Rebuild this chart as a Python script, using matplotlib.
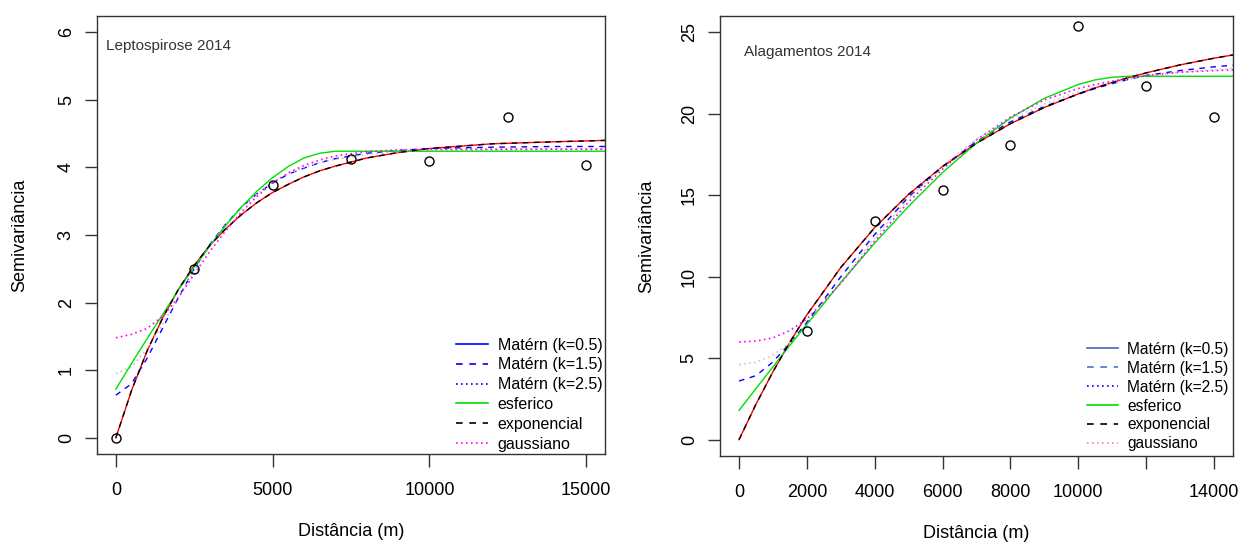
import matplotlib
matplotlib.use("Agg")
from matplotlib import pyplot as plt
from matplotlib.lines import Line2D

plt.rcParams['font.family'] = ['Liberation Sans', 'DejaVu Sans']

# --- Leptospirose 2014 ---
lep_pts_x = [0, 2500, 5000, 7500, 10000, 12500, 15000]
lep_pts_y = [0.0, 2.50, 3.74, 4.12, 4.10, 4.74, 4.03]

lep_x = [0, 500, 1000, 1500, 2000, 2500, 3000, 3500, 4000, 4500, 5000, 5500,
         6000, 6500, 7000, 8000, 9000, 10000, 12000, 14000, 15600]
lep_mat05 = [0, 0.70, 1.29, 1.78, 2.20, 2.55, 2.85, 3.09, 3.30, 3.48, 3.63, 3.75,
             3.86, 3.95, 4.02, 4.14, 4.22, 4.28, 4.35, 4.38, 4.40]
lep_mat15 = [0.63, 0.80, 1.18, 1.63, 2.08, 2.50, 2.86, 3.16, 3.41, 3.61, 3.77, 3.90,
             3.99, 4.07, 4.13, 4.21, 4.25, 4.28, 4.30, 4.31, 4.31]
lep_mat25 = [0.95, 1.05, 1.32, 1.69, 2.09, 2.48, 2.84, 3.15, 3.40, 3.61, 3.78, 3.90,
             4.00, 4.07, 4.12, 4.19, 4.23, 4.25, 4.26, 4.27, 4.27]
lep_esf = [0.72, 1.10, 1.47, 1.83, 2.19, 2.53, 2.84, 3.14, 3.41, 3.65, 3.85, 4.015,
           4.14, 4.21, 4.24, 4.24, 4.24, 4.24, 4.24, 4.24, 4.24]
lep_exp = [0, 0.70, 1.29, 1.78, 2.20, 2.55, 2.85, 3.09, 3.30, 3.48, 3.63, 3.75,
           3.86, 3.95, 4.02, 4.14, 4.22, 4.28, 4.35, 4.38, 4.40]
lep_gau = [1.48, 1.53, 1.62, 1.80, 2.08, 2.42, 2.76, 3.06, 3.34, 3.57, 3.77, 3.92,
           4.03, 4.11, 4.17, 4.235, 4.26, 4.27, 4.27, 4.27, 4.27]

# --- Alagamentos 2014 ---
ala_pts_x = [2000, 4000, 6000, 8000, 10000, 12000, 14000]
ala_pts_y = [6.7, 13.4, 15.3, 18.1, 25.4, 21.7, 19.8]

ala_x = [0, 500, 1000, 1500, 2000, 3000, 4000, 5000, 6000, 7000, 8000,
         9000, 10000, 10500, 11000, 11500, 12000, 13000, 14000, 14560]
ala_mat05 = [0, 2.18, 4.17, 5.99, 7.66, 10.57, 13.02, 15.06, 16.77, 18.19, 19.39,
             20.39, 21.22, 21.59, 21.92, 22.23, 22.51, 23.00, 23.41, 23.61]
ala_mat15 = [3.60, 3.93, 4.77, 5.92, 7.20, 10.0, 12.6, 14.9, 16.75, 18.3, 19.5,
             20.45, 21.2, 21.55, 21.85, 22.12, 22.35, 22.65, 22.88, 22.98]
ala_mat25 = [4.60, 4.75, 5.20, 5.95, 7.0, 9.7, 12.4, 14.8, 16.8, 18.45, 19.65,
             20.6, 21.35, 21.65, 21.9, 22.12, 22.3, 22.55, 22.7, 22.78]
ala_esf = [1.8, 3.14, 4.47, 5.79, 7.09, 9.64, 12.07, 14.33, 16.4, 18.21, 19.74,
           20.95, 21.8, 22.08, 22.24, 22.3, 22.3, 22.3, 22.3, 22.3]
ala_exp = [0, 2.18, 4.17, 5.99, 7.66, 10.57, 13.02, 15.06, 16.77, 18.19, 19.39,
           20.39, 21.22, 21.59, 21.92, 22.23, 22.51, 23.00, 23.41, 23.61]
ala_gau = [6.0, 6.05, 6.25, 6.7, 7.4, 9.6, 12.2, 14.6, 16.6, 18.4, 19.8,
           20.85, 21.55, 21.8, 22.0, 22.2, 22.35, 22.55, 22.65, 22.7]

legend_labels = ["Matérn (k=0.5)", "Matérn (k=1.5)", "Matérn (k=2.5)",
                 "esferico", "exponencial", "gaussiano"]

DASHED = (0, (4, 4))
DOTTED = (0, (1, 2))


def draw_panel(ax, x, curves, pts_x, pts_y, gray):
    mat05, mat15, mat25, esf, expo, gau = curves
    ax.plot(x, mat05, color='red', lw=1.0)
    ax.plot(x, mat15, color='blue', lw=1.0, ls=DASHED)
    ax.plot(x, mat25, color=gray, lw=1.2, ls=DOTTED)
    ax.plot(x, esf, color='#00e000', lw=1.0)
    ax.plot(x, expo, color='black', lw=1.0, ls=DASHED)
    ax.plot(x, gau, color='magenta', lw=1.2, ls=DOTTED)
    ax.plot(pts_x, pts_y, 'o', mfc='none', mec='black', ms=6.5, mew=1.0)


def style_axes(ax, fs_leg, spacing, bpad, leg_colors):
    for s in ax.spines.values():
        s.set_linewidth(1.0)
        s.set_color('#333333')
    ax.tick_params(axis='both', length=9, width=1.0, labelsize=13, color='#333333')
    ax.tick_params(axis='y', pad=7)
    ax.tick_params(axis='x', pad=11)
    for lab in ax.get_yticklabels():
        lab.set_rotation(90)
        lab.set_va('center')
    handles = [
        Line2D([], [], color=leg_colors[0], lw=1.2),
        Line2D([], [], color=leg_colors[1], lw=1.2, ls=DASHED),
        Line2D([], [], color=leg_colors[2], lw=1.2, ls=DOTTED),
        Line2D([], [], color='#00e000', lw=1.2),
        Line2D([], [], color='black', lw=1.2, ls=DASHED),
        Line2D([], [], color=leg_colors[3], lw=1.2, ls=DOTTED),
    ]
    ax.legend(handles, legend_labels, loc='lower right', frameon=False,
              fontsize=fs_leg, labelspacing=spacing, handlelength=2.0,
              handletextpad=0.6, borderaxespad=bpad, borderpad=0.1)
    ax.set_xlabel("Distância (m)", fontsize=13)
    ax.set_ylabel("Semivariância", fontsize=13)


fig = plt.figure(figsize=(12.41, 5.44), dpi=100)
ax1 = fig.add_axes([0.0782, 0.1654, 0.4093, 0.8051])
ax2 = fig.add_axes([0.5802, 0.1618, 0.4134, 0.8088])

draw_panel(ax1, lep_x, [lep_mat05, lep_mat15, lep_mat25, lep_esf, lep_exp, lep_gau],
           lep_pts_x, lep_pts_y, '#c4c4c4')
ax1.set_xlim(-600, 15600)
ax1.set_ylim(-0.24, 6.24)
ax1.set_xticks([0, 5000, 10000, 15000])
ax1.set_yticks(range(0, 7))
ax1.text(0.018, 0.932, "Leptospirose 2014", transform=ax1.transAxes,
         fontsize=11, va='center', ha='left', color='#333333')
style_axes(ax1, 11.5, 0.30, 0.05, ['blue', 'blue', 'blue', 'magenta'])
ax1.xaxis.set_label_coords(0.5, -0.1575)
ax1.yaxis.set_label_coords(-0.136, 0.5)

draw_panel(ax2, ala_x, [ala_mat05, ala_mat15, ala_mat25, ala_esf, ala_exp, ala_gau],
           ala_pts_x, ala_pts_y, '#c8d0c0')
ax2.set_xlim(-560, 14560)
ax2.set_ylim(-1.0, 26.0)
ax2.set_xticks([0, 2000, 4000, 6000, 8000, 10000, 12000, 14000])
ax2.set_xticklabels(["0", "2000", "4000", "6000", "8000", "10000", "", "14000"])
ax2.set_yticks([0, 5, 10, 15, 20, 25])
ax2.text(0.047, 0.918, "Alagamentos 2014", transform=ax2.transAxes,
         fontsize=11, va='center', ha='left', color='#333333')
style_axes(ax2, 11.2, 0.25, 0.2, ['#4a64c8', '#5070d0', 'blue', '#f080c0'])
ax2.xaxis.set_label_coords(0.5, -0.157)
ax2.yaxis.set_label_coords(-0.127, 0.5)

fig.savefig("out.png", dpi=100)
